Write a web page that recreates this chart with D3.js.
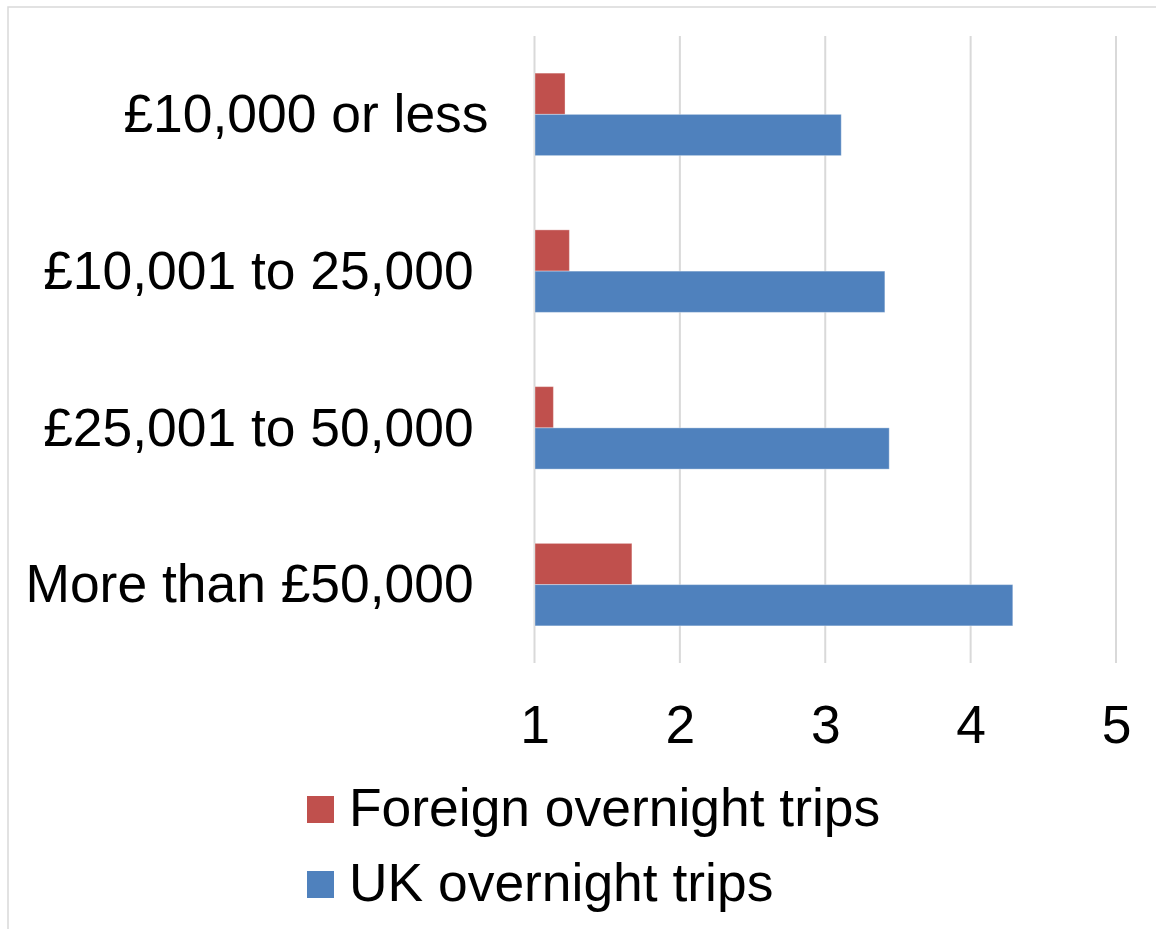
<!DOCTYPE html>
<html>
<head>
<meta charset="utf-8">
<script src="https://cdn.jsdelivr.net/npm/d3@7"></script>
<style>
  html, body { margin: 0; padding: 0; background: #fff; }
  svg { display: block; }
  text { font-family: "Liberation Sans", Arial, sans-serif; fill: #000; }
</style>
</head>
<body>
<script>
// Income bands (top to bottom) and average trips per person
const categories = ["£10,000 or less", "£10,001 to 25,000 ", "£25,001 to 50,000 ", "More than £50,000 "];
const foreignTrips = [1.21, 1.24, 1.13, 1.67];
const ukTrips = [3.11, 3.41, 3.44, 4.29];
const xTicks = [1, 2, 3, 4, 5];
const seriesNames = ["Foreign overnight trips", "UK overnight trips"];
const seriesColors = ["#c0504d", "#4f81bd"];

const W = 1156, H = 929;
const plot = { left: 534.5, right: 1116, top: 36, bottom: 663 };
const fontSize = 53.4;

const svg = d3.select("body").append("svg")
  .attr("width", W).attr("height", H);

// Chart-area frame (only top and left edges fall inside the page)
svg.append("rect")
  .attr("x", 8).attr("y", 7)
  .attr("width", W + 20).attr("height", H + 20)
  .attr("fill", "none").attr("stroke", "#d9d9d9").attr("stroke-width", 1.5);

const x = d3.scaleLinear().domain([1, 5]).range([plot.left, plot.right]);
const y = d3.scaleBand().domain(categories).range([plot.top, plot.bottom])
  .paddingInner(0.9 / 1.9).paddingOuter(0.45 / 1.9);
const ySeries = d3.scaleBand().domain([0, 1]).range([0, y.bandwidth()]);

// Vertical gridlines
svg.append("g").selectAll("line").data(xTicks).join("line")
  .attr("x1", d => x(d)).attr("x2", d => x(d))
  .attr("y1", plot.top).attr("y2", plot.bottom)
  .attr("stroke", "#d9d9d9").attr("stroke-width", 2);

// Bars
const rows = categories.map((c, i) => ({ c, vals: [foreignTrips[i], ukTrips[i]] }));
const g = svg.append("g");
rows.forEach(r => {
  r.vals.forEach((v, s) => {
    g.append("rect")
      .attr("x", x(1) + 0.5)
      .attr("y", y(r.c) + ySeries(s))
      .attr("width", x(v) - x(1) - 0.5)
      .attr("height", ySeries.bandwidth())
      .attr("fill", seriesColors[s])
      .attr("stroke", "#fff").attr("stroke-opacity", 0.35).attr("stroke-width", 1);
  });
});

// Category labels
const yAxis = d3.axisLeft(y).tickSize(0).tickPadding(0);
const ya = svg.append("g").attr("transform", `translate(${plot.left - 46},0)`).call(yAxis);
ya.select(".domain").remove();
ya.selectAll("text")
  .attr("font-size", fontSize)
  .attr("font-family", "'Liberation Sans', Arial, sans-serif")
  .attr("fill", "#000")
  .attr("dy", "0.33em")
  .style("white-space", "pre");

// Value axis labels
const xAxis = d3.axisBottom(x).tickValues(xTicks).tickSize(0).tickPadding(0).tickFormat(d3.format("d"));
const xa = svg.append("g").attr("transform", `translate(0,${plot.bottom})`).call(xAxis);
xa.select(".domain").remove();
xa.selectAll("text")
  .attr("font-size", fontSize)
  .attr("font-family", "'Liberation Sans', Arial, sans-serif")
  .attr("fill", "#000")
  .attr("dy", 0)
  .attr("y", 80);

// Legend
const legend = svg.append("g");
seriesNames.forEach((name, i) => {
  const ly = 796 + i * 75;
  legend.append("rect")
    .attr("x", 307).attr("y", ly)
    .attr("width", 27).attr("height", 27)
    .attr("fill", seriesColors[i]);
  legend.append("text")
    .attr("x", 349).attr("y", ly + 30)
    .attr("font-size", fontSize)
    .text(name);
});
</script>
</body>
</html>
